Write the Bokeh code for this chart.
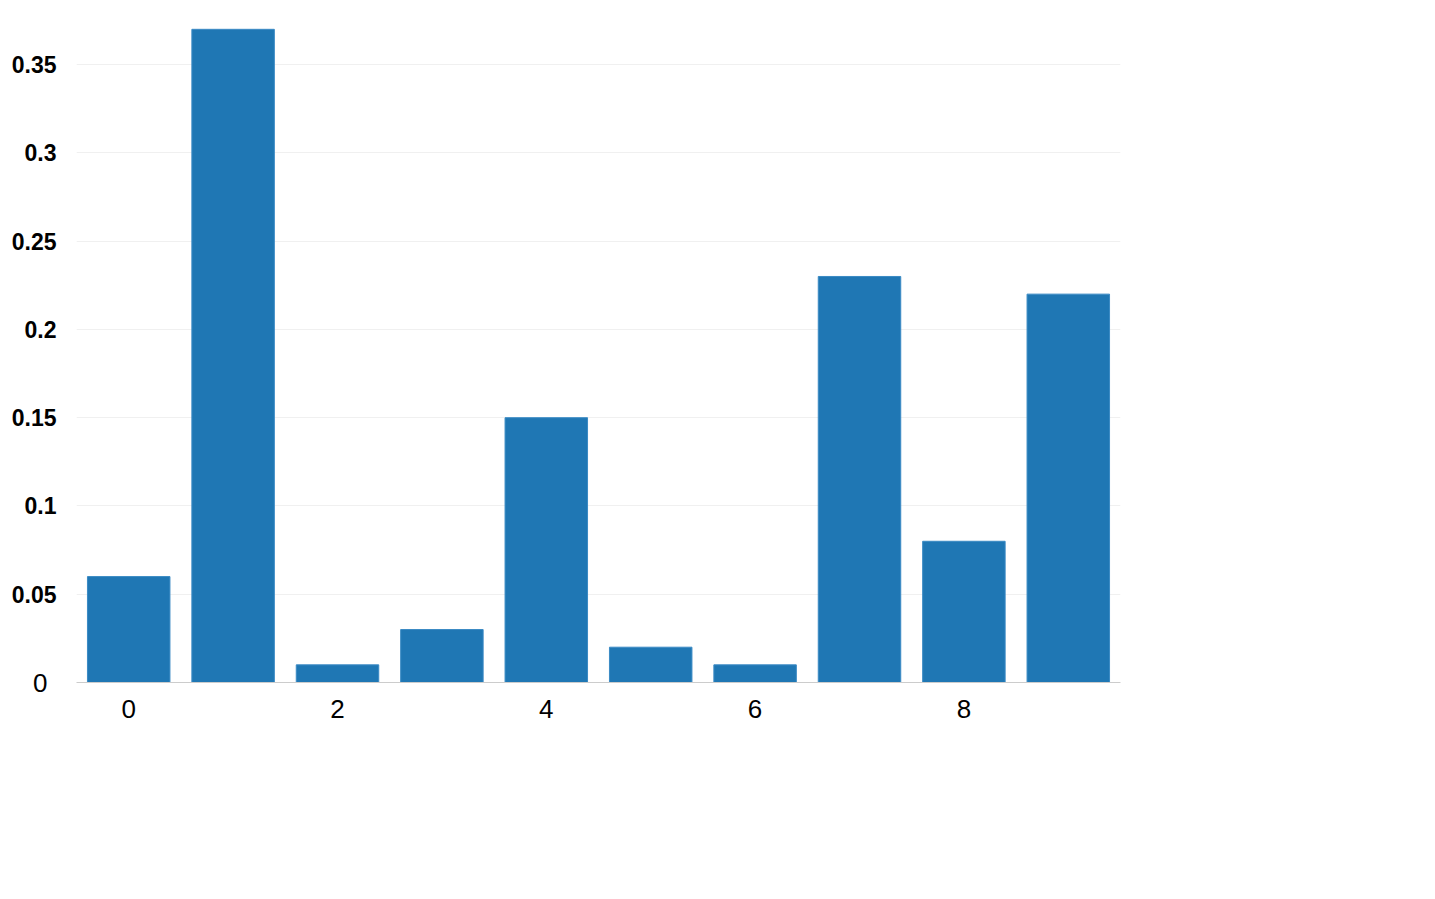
from bokeh.plotting import figure
from bokeh.models import Range1d, FixedTicker, ColumnDataSource, LinearAxis
from bokeh.embed import file_html
from bokeh.resources import INLINE

categories = [0, 1, 2, 3, 4, 5, 6, 7, 8, 9]
values = [0.06, 0.37, 0.01, 0.03, 0.15, 0.02, 0.01, 0.23, 0.08, 0.22]
x_ticks = [0, 2, 4, 6, 8]
y_ticks = [0.05, 0.1, 0.15, 0.2, 0.25, 0.3, 0.35]
zero_tick = [0]
grid_ticks = zero_tick + y_ticks

source = ColumnDataSource(data=dict(x=categories, top=values))

p = figure(width=1130, height=748, output_backend="svg", toolbar_location=None,
           x_range=Range1d(-0.5, 9.5), y_range=Range1d(0, 0.375),
           min_border_left=76, min_border_right=10, min_border_top=20, min_border_bottom=66)
p.outline_line_color = None
p.background_fill_color = "white"

p.vbar(x="x", top="top", width=0.79, source=source, fill_color="#1f77b4",
       line_color="#3a8ac4", line_width=1)

p.xgrid.grid_line_color = None
p.ygrid.grid_line_color = "#f0f0f0"
p.ygrid.ticker = FixedTicker(ticks=grid_ticks)

p.xaxis.ticker = FixedTicker(ticks=x_ticks)
p.xaxis.axis_line_color = "#cccccc"
p.xaxis.major_tick_line_color = None
p.xaxis.minor_tick_line_color = None
p.xaxis.major_label_text_font = "Liberation Sans"
p.xaxis.major_label_text_font_size = "26px"
p.xaxis.major_label_text_color = "black"
p.xaxis.major_label_standoff = 11

# inner left axis: only the zero label, regular weight
p.yaxis.ticker = FixedTicker(ticks=zero_tick)
p.yaxis.axis_line_color = None
p.yaxis.major_tick_line_color = None
p.yaxis.minor_tick_line_color = None
p.yaxis.major_label_text_font = "Liberation Sans"
p.yaxis.major_label_text_font_size = "26px"
p.yaxis.major_label_text_color = "black"
p.yaxis.major_label_standoff = 23
p.yaxis.major_label_text_baseline = "bottom"

# outer left axis: bold labels
ax2 = LinearAxis(ticker=FixedTicker(ticks=y_ticks))
ax2.axis_line_color = None
ax2.major_tick_line_color = None
ax2.minor_tick_line_color = None
ax2.major_label_text_font = "Liberation Sans"
ax2.major_label_text_font_size = "23px"
ax2.major_label_text_font_style = "bold"
ax2.major_label_text_color = "black"
ax2.major_label_standoff = -32
p.add_layout(ax2, "left")

open("out.html", "w").write(file_html(p, INLINE))
